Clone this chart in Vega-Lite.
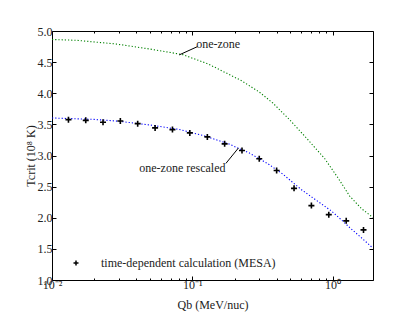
{
  "$schema": "https://vega.github.io/schema/vega-lite/v6.json",
  "width": 321,
  "height": 249,
  "autosize": "none",
  "padding": {"left": 52, "top": 31, "right": 42, "bottom": 32},
  "background": "white",
  "config": {
    "view": {"stroke": "black", "strokeWidth": 1},
    "font": "Liberation Serif",
    "axis": {"domain": false, "grid": false, "labelFont": "Liberation Serif", "titleFont": "Liberation Serif", "labelFontSize": 12, "titleFontSize": 12, "titleFontWeight": "normal", "labelColor": "#222", "titleColor": "#222", "tickColor": "black"}
  },
  "datasets": {
    "mesa": [
      {"Q": 0.0131, "T": 3.576}, {"Q": 0.0174, "T": 3.565}, {"Q": 0.0231, "T": 3.533},
      {"Q": 0.0307, "T": 3.555}, {"Q": 0.0408, "T": 3.512}, {"Q": 0.0543, "T": 3.443},
      {"Q": 0.0722, "T": 3.416}, {"Q": 0.096, "T": 3.363}, {"Q": 0.128, "T": 3.299},
      {"Q": 0.170, "T": 3.187}, {"Q": 0.226, "T": 3.08}, {"Q": 0.300, "T": 2.947},
      {"Q": 0.399, "T": 2.76}, {"Q": 0.531, "T": 2.472}, {"Q": 0.706, "T": 2.195},
      {"Q": 0.939, "T": 2.05}, {"Q": 1.25, "T": 1.95}, {"Q": 1.66, "T": 1.805}
    ],
    "onezone": [
      {"Q": 0.01, "T": 4.864}, {"Q": 0.015, "T": 4.85}, {"Q": 0.0285, "T": 4.792},
      {"Q": 0.05, "T": 4.71}, {"Q": 0.0853, "T": 4.621}, {"Q": 0.13, "T": 4.47},
      {"Q": 0.2227, "T": 4.205}, {"Q": 0.3, "T": 4.02}, {"Q": 0.375, "T": 3.843},
      {"Q": 0.493, "T": 3.576}, {"Q": 0.649, "T": 3.283}, {"Q": 0.877, "T": 2.952},
      {"Q": 1.1, "T": 2.63}, {"Q": 1.322, "T": 2.349}, {"Q": 1.6, "T": 2.15}, {"Q": 1.94, "T": 2.003}
    ],
    "rescaled": [
      {"Q": 0.01, "T": 3.603}, {"Q": 0.02, "T": 3.58}, {"Q": 0.03, "T": 3.55},
      {"Q": 0.05, "T": 3.49}, {"Q": 0.08, "T": 3.42}, {"Q": 0.12, "T": 3.32},
      {"Q": 0.18, "T": 3.19}, {"Q": 0.255, "T": 3.04}, {"Q": 0.35, "T": 2.86},
      {"Q": 0.442, "T": 2.70}, {"Q": 0.6, "T": 2.45}, {"Q": 0.8, "T": 2.25},
      {"Q": 0.979, "T": 2.11}, {"Q": 1.15, "T": 1.97}, {"Q": 1.322, "T": 1.843},
      {"Q": 1.6, "T": 1.68}, {"Q": 1.94, "T": 1.512}
    ],
    "labelLeft": [
      {"Q": 0.1066, "T": 4.79, "text": "one-zone"}
    ],
    "labelRight": [
      {"Q": 0.1725, "T": 2.80, "text": "one-zone rescaled"}
    ],
    "leaders": [
      {"Q": 0.0807, "T": 4.616, "Q2": 0.109, "T2": 4.75},
      {"Q": 0.1734, "T": 2.872, "Q2": 0.2131, "T2": 3.12}
    ]
  },
  "resolve": {"axis": {"x": "independent", "y": "independent"}},
  "layer": [
    {
      "data": {"name": "onezone"},
      "mark": {"type": "line", "color": "#008000", "strokeWidth": 1.1, "strokeDash": [1.2, 2], "clip": true},
      "encoding": {
        "x": {"field": "Q", "type": "quantitative",
          "scale": {"type": "log", "domain": [0.01, 1.94], "nice": false},
          "axis": {"orient": "bottom", "title": "Qb (MeV/nuc)", "titlePadding": 7,
            "values": [0.01,0.02,0.03,0.04,0.05,0.06,0.07,0.08,0.09,0.1,0.2,0.3,0.4,0.5,0.6,0.7,0.8,0.9,1],
            "labelExpr": "datum.value == 0.01 ? '10⁻²' : datum.value == 0.1 ? '10⁻¹' : datum.value == 1 ? '10⁰' : ''",
            "labelPadding": 3, "labelFlush": false, "labelOverlap": false,
            "tickSize": {"condition": {"test": "datum.value == 0.01 || datum.value == 0.1 || datum.value == 1", "value": -4}, "value": -2}}},
        "y": {"field": "T", "type": "quantitative",
          "scale": {"domain": [1, 5], "nice": false, "zero": false},
          "axis": {"orient": "left", "title": "Tcrit (10⁸ K)", "titlePadding": 0,
            "values": [1,1.5,2,2.5,3,3.5,4,4.5,5], "format": ".1f", "labelPadding": 4, "tickSize": -4, "labelFlush": false}}
      }
    },
    {
      "data": {"name": "rescaled"},
      "mark": {"type": "line", "color": "#0000ff", "strokeWidth": 1.1, "strokeDash": [1.2, 2], "clip": true},
      "encoding": {
        "x": {"field": "Q", "type": "quantitative",
          "axis": {"orient": "top", "title": null, "labels": false,
            "values": [0.01,0.02,0.03,0.04,0.05,0.06,0.07,0.08,0.09,0.1,0.2,0.3,0.4,0.5,0.6,0.7,0.8,0.9,1],
            "tickSize": {"condition": {"test": "datum.value == 0.01 || datum.value == 0.1 || datum.value == 1", "value": -4}, "value": -2}}},
        "y": {"field": "T", "type": "quantitative",
          "axis": {"orient": "right", "title": null, "labels": false, "values": [1,1.5,2,2.5,3,3.5,4,4.5,5], "tickSize": -4}}
      }
    },
    {
      "data": {"name": "leaders"},
      "mark": {"type": "rule", "color": "black", "strokeWidth": 1},
      "encoding": {
        "x": {"field": "Q", "type": "quantitative", "axis": null},
        "y": {"field": "T", "type": "quantitative", "axis": null},
        "x2": {"field": "Q2"},
        "y2": {"field": "T2"}
      }
    },
    {
      "data": {"name": "labelLeft"},
      "mark": {"type": "text", "font": "Liberation Serif", "fontSize": 12, "color": "#222", "baseline": "middle", "align": "left"},
      "encoding": {
        "x": {"field": "Q", "type": "quantitative", "axis": null},
        "y": {"field": "T", "type": "quantitative", "axis": null},
        "text": {"field": "text"}
      }
    },
    {
      "data": {"name": "labelRight"},
      "mark": {"type": "text", "font": "Liberation Serif", "fontSize": 12, "color": "#222", "baseline": "middle", "align": "right"},
      "encoding": {
        "x": {"field": "Q", "type": "quantitative", "axis": null},
        "y": {"field": "T", "type": "quantitative", "axis": null},
        "text": {"field": "text"}
      }
    },
    {
      "data": {"name": "mesa"},
      "mark": {"type": "point", "shape": "M-1,0L1,0M0,-1L0,1", "filled": false, "size": 36, "strokeWidth": 1.6, "opacity": 1},
      "encoding": {
        "x": {"field": "Q", "type": "quantitative", "axis": null},
        "y": {"field": "T", "type": "quantitative", "axis": null},
        "color": {"datum": "time-dependent calculation (MESA)", "type": "nominal",
          "scale": {"range": ["black"]},
          "legend": {"title": null, "orient": "none", "legendX": 18, "legendY": 226,
            "symbolType": "M-1,0L1,0M0,-1L0,1", "symbolSize": 25, "symbolStrokeWidth": 1.5, "symbolFillColor": "transparent",
            "labelFont": "Liberation Serif", "labelFontSize": 12, "labelOffset": 19, "labelColor": "#222", "labelLimit": 0, "padding": 0}}
      }
    }
  ]
}
